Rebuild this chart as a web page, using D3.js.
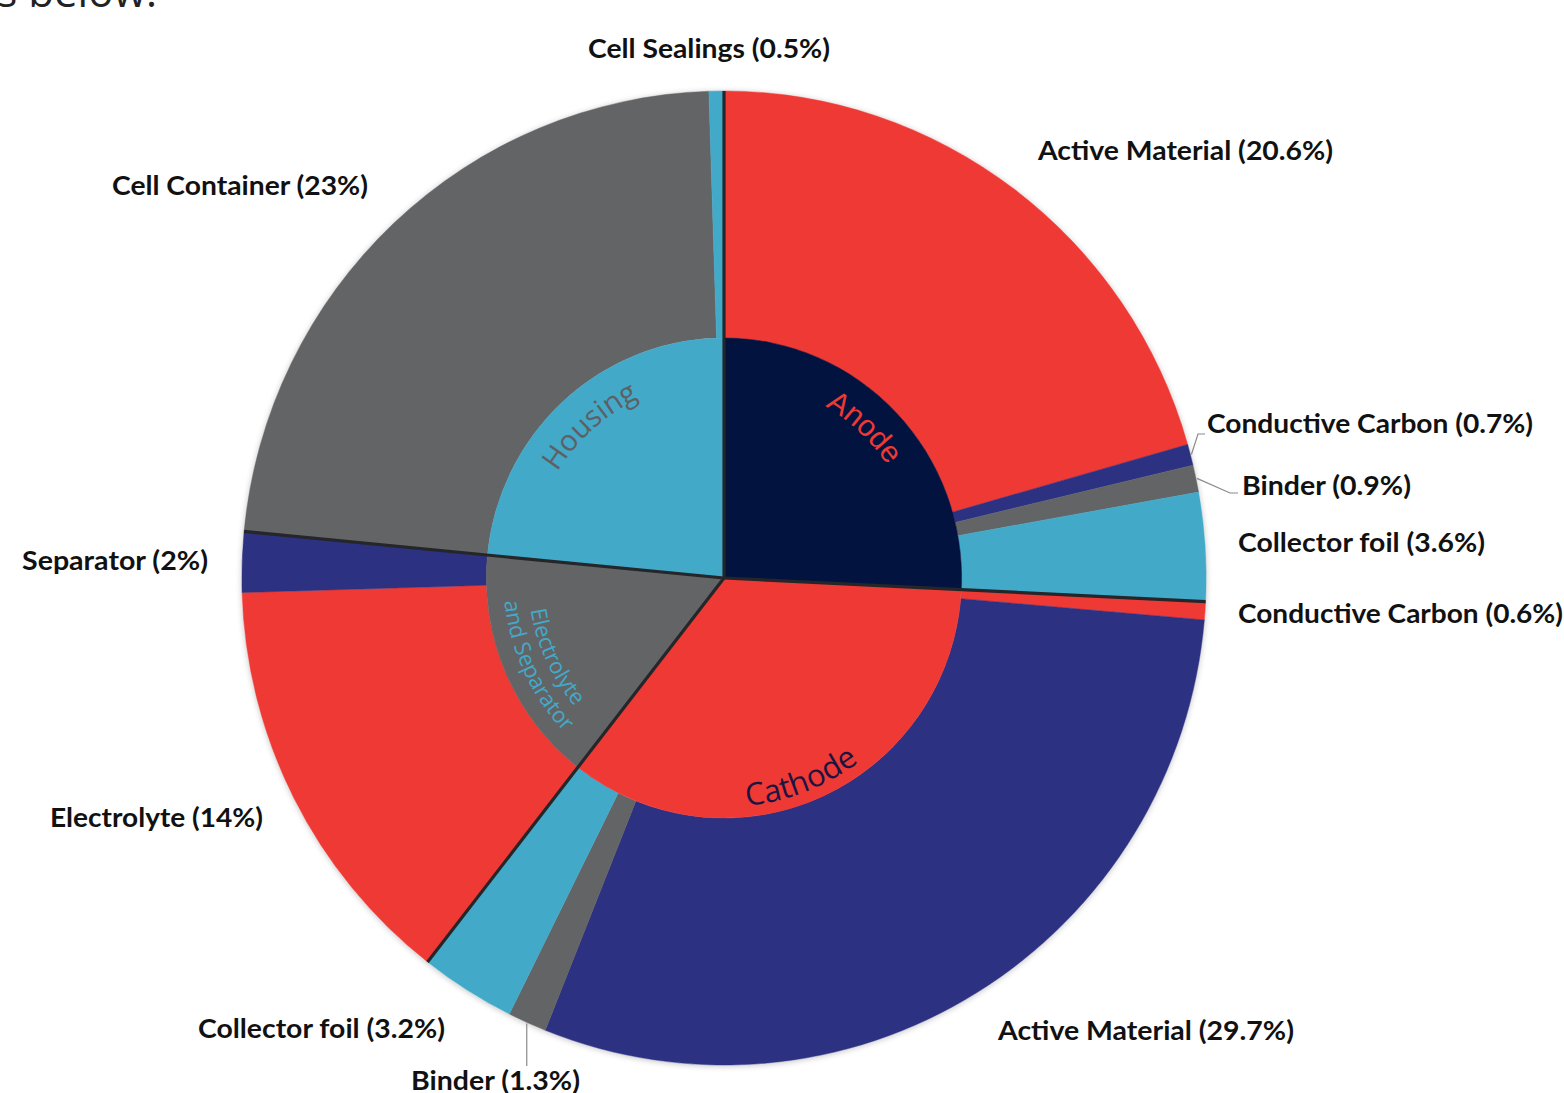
<!DOCTYPE html>
<html>
<head>
<meta charset="utf-8">
<script src="https://cdn.jsdelivr.net/npm/d3@7"></script>
<style>
  html, body { margin: 0; padding: 0; background: #ffffff; }
  svg { display: block; }
</style>
</head>
<body>
<svg id="chart" width="1564" height="1093"></svg>
<script>
// ---------------- DATA ----------------
const groups = ["Anode", "Cathode", "Electrolyte and Separator", "Housing"];
const groupValues = [25.8, 34.8, 16, 23.5];

const categories = ["Active Material", "Conductive Carbon", "Binder", "Collector foil",
                    "Conductive Carbon", "Active Material", "Binder", "Collector foil",
                    "Electrolyte", "Separator",
                    "Cell Container", "Cell Sealings"];
const outerValues = [20.6, 0.7, 0.9, 3.6,
                     0.6, 29.7, 1.3, 3.2,
                     14, 2,
                     23, 0.5];
const valueText = ["20.6%", "0.7%", "0.9%", "3.6%",
                   "0.6%", "29.7%", "1.3%", "3.2%",
                   "14%", "2%",
                   "23%", "0.5%"];
const materialKind = ["red", "navy", "gray", "blue",
                      "red", "navy", "gray", "blue",
                      "red", "navy",
                      "gray", "blue"];

// ---------------- STYLE / LAYOUT ----------------
const palette = { red: "#EE3935", navy: "#2C3181", gray: "#636466", blue: "#43A9C8" };
const groupFill = ["#02133F", "#EE3935", "#636466", "#43A9C8"];
const groupTextFill = ["#EE3935", "#1A1440", "#43A9C8", "#5E6064"];

const cx = 724, cy = 578, R = 487, r0 = 240, sx = 0.99;

// label positions (left x, baseline y, target width)
const labelLayout = [
  { x: 1038, y: 160, w: 295 },
  { x: 1207, y: 433, w: 326 },
  { x: 1242, y: 495, w: 169 },
  { x: 1238, y: 552, w: 247 },
  { x: 1238, y: 623, w: 325 },
  { x: 998,  y: 1040, w: 296 },
  { x: 411,  y: 1090, w: 169 },
  { x: 198,  y: 1038, w: 247 },
  { x: 50,   y: 827, w: 213 },
  { x: 22,   y: 570, w: 186 },
  { x: 112,  y: 195, w: 256 },
  { x: 588,  y: 58,  w: 242 }
];

const svg = d3.select("#chart");
const defs = svg.append("defs");

// fragment of text above the chart (cut off in reference)
svg.append("text")
  .attr("x", 157).attr("y", 7)
  .attr("text-anchor", "end")
  .attr("font-family", "'Open Sans', sans-serif")
  .attr("font-size", 42)
  .attr("fill", "#222")
  .text("s below.");

const g = svg.append("g").attr("transform", `translate(${cx},${cy}) scale(${sx},1)`);

const pie = d3.pie().sort(null).value(d => d);
const outerArcs = pie(outerValues);
const innerArcs = pie(groupValues);

const outerArc = d3.arc().innerRadius(r0).outerRadius(R);
const innerArc = d3.arc().innerRadius(0).outerRadius(r0);

// subtle shadow
const f = defs.append("filter").attr("id", "sh").attr("x", "-10%").attr("y", "-10%").attr("width", "120%").attr("height", "120%");
f.append("feGaussianBlur").attr("in", "SourceAlpha").attr("stdDeviation", 3);
f.append("feOffset").attr("dx", 0).attr("dy", 1).attr("result", "b");
f.append("feComponentTransfer").append("feFuncA").attr("type", "linear").attr("slope", 0.25);
const fm = f.append("feMerge");
fm.append("feMergeNode");
fm.append("feMergeNode").attr("in", "SourceGraphic");

g.append("circle").attr("r", R).attr("fill", "#fff").attr("filter", "url(#sh)");

g.selectAll("path.outer")
  .data(outerArcs)
  .join("path")
  .attr("class", "outer")
  .attr("d", outerArc)
  .attr("fill", (d, i) => palette[materialKind[i]])
  .attr("stroke", (d, i) => palette[materialKind[i]])
  .attr("stroke-width", 0.5);

g.selectAll("path.inner")
  .data(innerArcs)
  .join("path")
  .attr("class", "inner")
  .attr("d", innerArc)
  .attr("fill", (d, i) => groupFill[i])
  .attr("stroke", (d, i) => groupFill[i])
  .attr("stroke-width", 0.5);

// dark boundary lines between groups
g.selectAll("line.bound")
  .data(innerArcs)
  .join("line")
  .attr("class", "bound")
  .attr("x1", 0).attr("y1", 0)
  .attr("x2", d => R * Math.sin(d.startAngle))
  .attr("y2", d => -R * Math.cos(d.startAngle))
  .attr("stroke", "#252629")
  .attr("stroke-width", 3.2);

// ---------------- inner curved labels ----------------
function pt(r, a) { return [cx + sx * r * Math.sin(a), cy - r * Math.cos(a)]; }
function arcPath(r, a0, a1) {
  const p0 = pt(r, a0), p1 = pt(r, a1);
  const sweep = a1 > a0 ? 1 : 0;
  const large = Math.abs(a1 - a0) > Math.PI ? 1 : 0;
  return `M${p0[0]},${p0[1]} A${r * sx},${r} 0 ${large} ${sweep} ${p1[0]},${p1[1]}`;
}
const deg = Math.PI / 180;
const innerLabelLayout = [
  { lines: ["Anode"], angle: 43, r: [200], cw: true, size: 30, font: "'Liberation Sans', Arial, sans-serif" },
  { lines: ["Cathode"], angle: 159, r: [229], cw: false, size: 31, font: "'Open Sans', sans-serif" },
  { lines: ["Electrolyte", "and Separator"], angle: 245, r: [198, 223], cw: false, size: 22, font: "'Open Sans', sans-serif" },
  { lines: ["Housing"], angle: 318.5, r: [199], cw: true, size: 29, font: "'Open Sans', sans-serif" }
];
innerLabelLayout.forEach((L, gi) => {
  L.lines.forEach((line, li) => {
    const id = `ip${gi}_${li}`;
    const a = L.angle * deg, span = 70 * deg;
    const d = L.cw ? arcPath(L.r[li], a - span, a + span) : arcPath(L.r[li], a + span, a - span);
    defs.append("path").attr("id", id).attr("d", d);
    svg.append("text")
      .attr("font-family", L.font)
      .attr("font-size", L.size)
      .attr("fill", groupTextFill[gi])
      .append("textPath")
      .attr("href", `#${id}`)
      .attr("startOffset", "50%")
      .attr("text-anchor", "middle")
      .text(line);
  });
});

// ---------------- outer labels ----------------
const labels = svg.append("g")
  .attr("font-family", "Lato, 'Open Sans', sans-serif")
  .attr("font-weight", "bold")
  .attr("font-size", 26)
  .attr("fill", "#111");

labels.selectAll("text")
  .data(categories)
  .join("text")
  .attr("x", (d, i) => labelLayout[i].x)
  .attr("y", (d, i) => labelLayout[i].y)
  .attr("textLength", (d, i) => labelLayout[i].w)
  .attr("lengthAdjust", "spacingAndGlyphs")
  .text((d, i) => `${d} (${valueText[i]})`);

// leader lines
function edgePoint(i, rr) {
  const a = (outerArcs[i].startAngle + outerArcs[i].endAngle) / 2;
  return pt(rr, a);
}
const leaders = [
  { i: 1, pts: [[1198, 434], [1205, 434]] },
  { i: 2, pts: [[1230, 493], [1238, 493]] },
  { i: 6, pts: null }
];
leaders.forEach(Ld => {
  const p0 = edgePoint(Ld.i, R + 1);
  let pts;
  if (Ld.pts) pts = [p0, ...Ld.pts];
  else pts = [p0, [p0[0], 1066]];
  svg.append("path")
    .attr("d", d3.line()(pts))
    .attr("fill", "none")
    .attr("stroke", "#8a8a8a")
    .attr("stroke-width", 1.2);
});
</script>
</body>
</html>
